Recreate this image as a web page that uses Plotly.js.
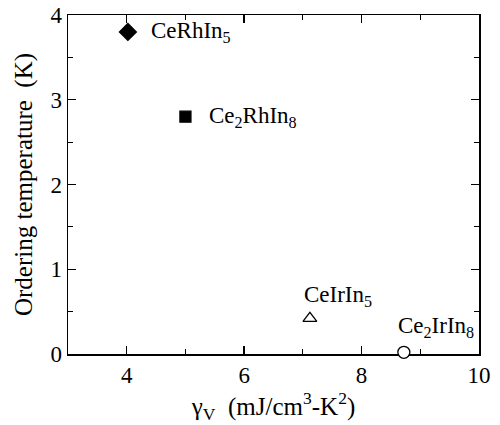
<!DOCTYPE html>
<html>
<head>
<meta charset="utf-8">
<script src="https://cdn.plot.ly/plotly-3.0.1.min.js"></script>
<style>
html,body{margin:0;padding:0;background:#fff;}
#chart{width:500px;height:425px;}
#chart text{font-family:"Liberation Serif","Times New Roman",serif !important;}
</style>
</head>
<body>
<div id="chart"></div>
<script>
// Data
const compounds = ["CeRhIn<sub>5</sub>", "Ce<sub>2</sub>RhIn<sub>8</sub>", "CeIrIn<sub>5</sub>", "Ce<sub>2</sub>IrIn<sub>8</sub>"];
const gammaV = [4.02, 5.0, 7.12, 8.72];
const orderingT = [3.8, 2.8, 0.42, 0.02];
const labelX = [4.38, 5.36, 6.98, 8.58];
const labelY = [3.8, 2.8, 0.68, 0.32];
const symbols = ["diamond", "square", "triangle-up-open", "circle"];
const fills = ["#000", "#000", "#000", "#fff"];
const sizes = [13, 11, 12, 12];
const xTicks = [4, 6, 8, 10];
const yTicks = [0, 1, 2, 3, 4];

const FONT = "Liberation Serif";

const traces = gammaV.map((x, i) => ({
  x: [x], y: [orderingT[i]],
  type: "scatter", mode: "markers",
  cliponaxis: false,
  marker: {symbol: symbols[i], size: sizes[i], color: fills[i], line: {color: "#000", width: 1.3}},
  showlegend: false, hoverinfo: "skip"
}));

const annotations = compounds.map((t, i) => ({
  x: labelX[i], y: labelY[i], xref: "x", yref: "y",
  text: t, showarrow: false, xanchor: "left", yanchor: "middle",
  font: {family: FONT, size: 23, color: "#000"}
}));

const axisCommon = {
  showline: true, linecolor: "#000", linewidth: 1.5, mirror: "allticks",
  ticks: "inside", ticklen: 8, tickwidth: 1.3, tickcolor: "#000",
  showgrid: false, zeroline: false, layer: "below traces",
  tickfont: {family: FONT, size: 23, color: "#000"},
  minor: {ticks: "inside", ticklen: 5, tickwidth: 1.1, tickcolor: "#000", showgrid: false}
};

const layout = {
  width: 500, height: 425,
  margin: {l: 68, r: 21, t: 15, b: 71},
  paper_bgcolor: "#fff", plot_bgcolor: "#fff",
  font: {family: FONT, color: "#000"},
  xaxis: Object.assign({}, axisCommon, {
    range: [3, 10], tickvals: xTicks, ticktext: xTicks.map(String),
    minor: Object.assign({}, axisCommon.minor, {dtick: 1, tick0: 0}),
    title: {text: "γ<sub>V</sub>\u00a0\u00a0(mJ/cm<sup>3</sup>-K<sup>2</sup>)", font: {family: FONT, size: 25, color: "#000"}, standoff: 8}
  }),
  yaxis: Object.assign({}, axisCommon, {
    range: [0, 4], tickvals: yTicks, ticktext: yTicks.map(String),
    minor: Object.assign({}, axisCommon.minor, {dtick: 0.5, tick0: 0}),
    title: {text: "Ordering temperature\u00a0\u00a0(K)", font: {family: FONT, size: 25, color: "#000"}, standoff: 10}
  }),
  annotations: annotations
};

Plotly.newPlot("chart", traces, layout, {staticPlot: true, displayModeBar: false}).then(function () {
  document.querySelectorAll("#chart text").forEach(function (t) {
    t.setAttribute("font-family", "Liberation Serif");
    t.style.setProperty("font-family", "'Liberation Serif', serif", "important");
  });
});
</script>
</body>
</html>
